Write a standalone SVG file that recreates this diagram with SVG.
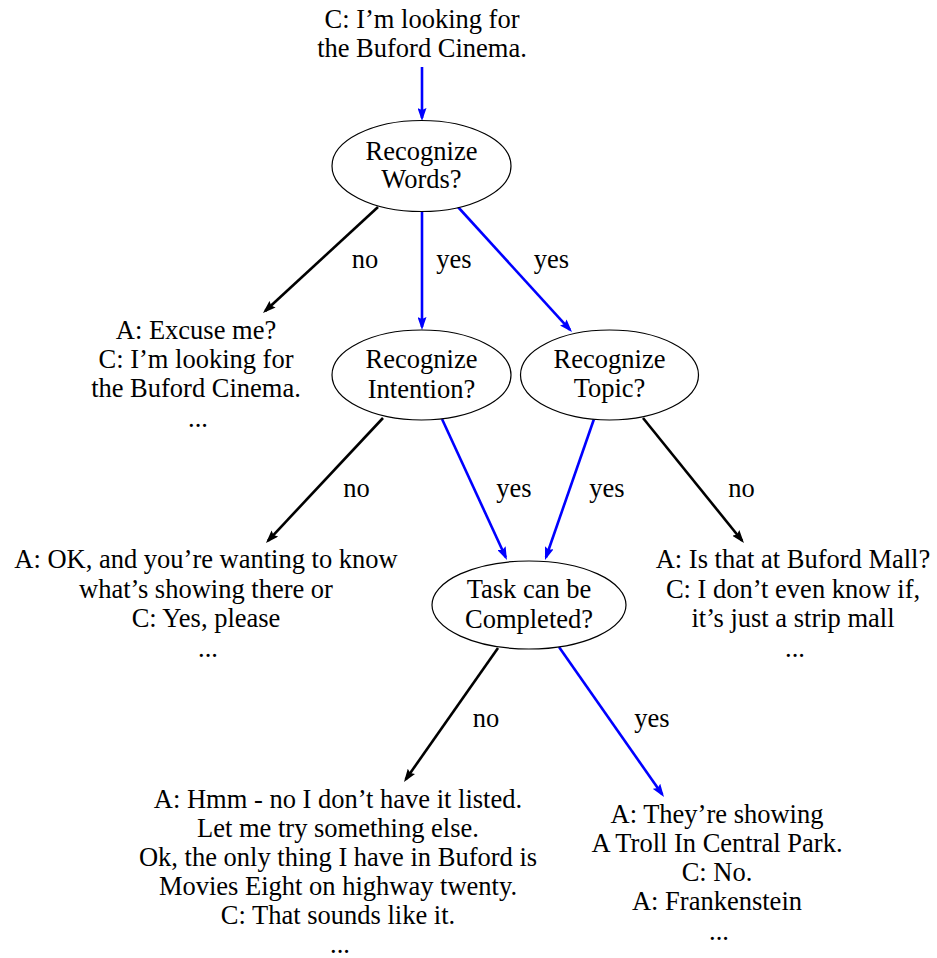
<svg xmlns="http://www.w3.org/2000/svg" width="937" height="958" viewBox="0 0 937 958">
  <style>
    text { font-family: "Liberation Serif", "Times New Roman", serif; font-size: 26.5px; fill: #000; text-anchor: middle; }
    .node ellipse { fill: #fff; stroke: #000; stroke-width: 1.2; }
    .blue { stroke: #0000ff; stroke-width: 2.6; fill: none; marker-end: url(#arrowBlue); }
    .black { stroke: #000; stroke-width: 2.6; fill: none; marker-end: url(#arrowBlack); }
  </style>
  <defs>
    <marker id="arrowBlue" viewBox="0 0 13 9" markerWidth="13" markerHeight="9" refX="10" refY="4.5" orient="auto" markerUnits="userSpaceOnUse">
      <path d="M0,0 L13,4.5 L0,9 L2,4.5 z" fill="#0000ff"/>
    </marker>
    <marker id="arrowBlack" viewBox="0 0 13 9" markerWidth="13" markerHeight="9" refX="10" refY="4.5" orient="auto" markerUnits="userSpaceOnUse">
      <path d="M0,0 L13,4.5 L0,9 L2,4.5 z" fill="#000"/>
    </marker>
  </defs>

  <g id="connectors">
    <line class="blue" x1="422" y1="67" x2="422" y2="118"/>
    <line class="black" x1="378" y1="207" x2="265.2" y2="311"/>
    <line class="blue" x1="422" y1="211" x2="422" y2="327"/>
    <line class="blue" x1="458" y1="207" x2="570" y2="329.8"/>
    <line class="black" x1="383" y1="418" x2="268" y2="540.8"/>
    <line class="blue" x1="442" y1="419" x2="505.7" y2="557.3"/>
    <line class="blue" x1="594" y1="419" x2="546" y2="557.2"/>
    <line class="black" x1="643" y1="418" x2="742.1" y2="540.7"/>
    <line class="black" x1="498" y1="648" x2="405.7" y2="779.5"/>
    <line class="blue" x1="559" y1="647" x2="662.3" y2="794.5"/>
    <text x="365" y="268">no</text>
    <text x="454" y="268">yes</text>
    <text x="551.5" y="268">yes</text>
    <text x="356.5" y="497">no</text>
    <text x="514" y="497">yes</text>
    <text x="607" y="497">yes</text>
    <text x="741.5" y="497">no</text>
    <text x="486" y="727">no</text>
    <text x="652" y="727">yes</text>
  </g>

  <g id="start" class="node">
    <text x="422" y="28">C: I’m looking for</text>
    <text x="422" y="57">the Buford Cinema.</text>
  </g>

  <g id="recognize-words" class="node">
    <ellipse cx="421.5" cy="166" rx="89.5" ry="45.5"/>
    <text x="421.5" y="160">Recognize</text>
    <text x="421.5" y="188">Words?</text>
  </g>

  <g id="excuse-me" class="node">
    <text x="196" y="339">A: Excuse me?</text>
    <text x="196" y="368">C: I’m looking for</text>
    <text x="196" y="397">the Buford Cinema.</text>
    <text x="198" y="427">...</text>
  </g>

  <g id="recognize-intention" class="node">
    <ellipse cx="421.5" cy="375" rx="89.5" ry="45"/>
    <text x="421.5" y="368">Recognize</text>
    <text x="421.5" y="398">Intention?</text>
  </g>

  <g id="recognize-topic" class="node">
    <ellipse cx="609.5" cy="375" rx="89" ry="45"/>
    <text x="609.5" y="368">Recognize</text>
    <text x="609.5" y="397">Topic?</text>
  </g>

  <g id="ok-wanting" class="node">
    <text x="206" y="568">A: OK, and you’re wanting to know</text>
    <text x="206" y="598">what’s showing there or</text>
    <text x="206" y="627">C: Yes, please</text>
    <text x="208" y="657">...</text>
  </g>

  <g id="task-completed" class="node">
    <ellipse cx="529" cy="605" rx="97" ry="44"/>
    <text x="529" y="598">Task can be</text>
    <text x="529" y="628">Completed?</text>
  </g>

  <g id="buford-mall" class="node">
    <text x="793" y="568">A: Is that at Buford Mall?</text>
    <text x="793" y="598">C: I don’t even know if,</text>
    <text x="793" y="627">it’s just a strip mall</text>
    <text x="795" y="657">...</text>
  </g>

  <g id="not-listed" class="node">
    <text x="338" y="808">A: Hmm - no I don’t have it listed.</text>
    <text x="338" y="837">Let me try something else.</text>
    <text x="338" y="866">Ok, the only thing I have in Buford is</text>
    <text x="338" y="895">Movies Eight on highway twenty.</text>
    <text x="338" y="924">C: That sounds like it.</text>
    <text x="340" y="953">...</text>
  </g>

  <g id="showing" class="node">
    <text x="717" y="823">A: They’re showing</text>
    <text x="717" y="852">A Troll In Central Park.</text>
    <text x="717" y="881">C: No.</text>
    <text x="717" y="910">A: Frankenstein</text>
    <text x="719" y="940">...</text>
  </g>
</svg>
